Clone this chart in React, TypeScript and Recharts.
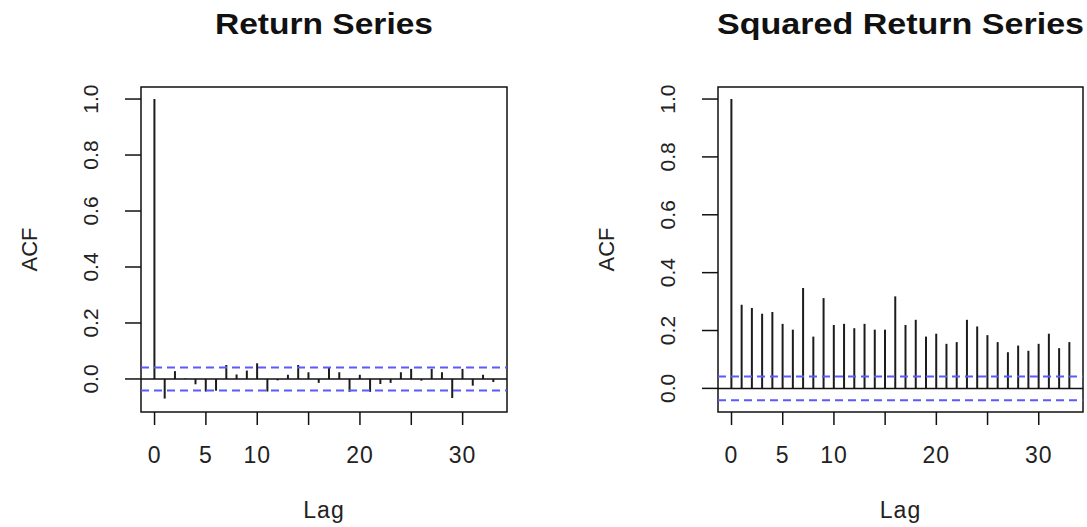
import React from 'react';
import { ComposedChart, Bar, XAxis, YAxis, ReferenceLine, ReferenceArea, Customized } from 'recharts';

const lags = [0, 1, 2, 3, 4, 5, 6, 7, 8, 9, 10, 11, 12, 13, 14, 15, 16, 17, 18, 19, 20, 21, 22, 23, 24, 25, 26, 27, 28, 29, 30, 31, 32, 33];

const returnAcf = [
  1.0, -0.07, 0.028, 0.002, -0.019, -0.045, -0.042, 0.05, 0.016, 0.03, 0.056, -0.045,
  -0.005, 0.015, 0.05, 0.024, -0.014, 0.042, 0.024, -0.046, 0.015, -0.046, -0.018, -0.014,
  0.024, 0.036, -0.006, 0.036, 0.024, -0.068, 0.036, -0.024, 0.015, -0.011,
];

const squaredAcf = [
  1.0, 0.289, 0.278, 0.258, 0.264, 0.223, 0.203, 0.347, 0.179, 0.312, 0.219, 0.223,
  0.208, 0.223, 0.203, 0.203, 0.318, 0.219, 0.237, 0.179, 0.189, 0.154, 0.16, 0.237,
  0.214, 0.184, 0.16, 0.125, 0.148, 0.13, 0.154, 0.189, 0.139, 0.16,
];

const confLimit = 0.041;
const xTicks = [0, 5, 10, 15, 20, 25, 30];
const xTickLabels = ['0', '5', '10', '', '20', '', '30'];
const yTicks = [0, 0.2, 0.4, 0.6, 0.8, 1.0];

const font = '"Liberation Sans", Arial, Helvetica, sans-serif';
const ink = '#111';
const textInk = '#222';

type PanelProps = {
  title: string;
  titleWidth: number;
  values: number[];
  yDomain: [number, number];
  yAxisWidth: number;
  rightMargin: number;
  width: number;
  left: number;
};

const xDomain: [number, number] = [-1.32, 34.32];
const plotTop = 87;
const xAxisHeight = 115;
const chartHeight = 527;

function Panel({ title, titleWidth, values, yDomain, yAxisWidth, rightMargin, width, left }: PanelProps) {
  const data = lags.map((lag, i) => ({ lag, acf: values[i] }));
  const plotLeft = yAxisWidth;
  const plotRight = width - rightMargin;
  const centerX = (plotLeft + plotRight) / 2;
  const plotBottom = chartHeight - xAxisHeight;
  const midY = (plotTop + plotBottom) / 2;

  return (
    <div style={{ position: 'absolute', left, top: 0 }}>
      <ComposedChart
        width={width}
        height={chartHeight}
        data={data}
        margin={{ top: plotTop, right: rightMargin, bottom: 0, left: 0 }}
      >
        <XAxis
          dataKey="lag"
          type="number"
          domain={xDomain}
          allowDataOverflow
          ticks={xTicks}
          interval={0}
          height={xAxisHeight}
          axisLine={false}
          tickSize={13}
          tickMargin={0}
          tickLine={{ stroke: ink, strokeWidth: 1.5 }}
          tick={(p: any) => {
            const idx = xTicks.indexOf(p.payload.value);
            return (
              <text
                x={p.x}
                y={p.y + 38}
                textAnchor="middle"
                fontFamily={font}
                fontSize={23}
                letterSpacing={1}
                fill={textInk}
              >
                {xTickLabels[idx]}
              </text>
            );
          }}
        />
        <YAxis
          type="number"
          domain={yDomain}
          allowDataOverflow
          ticks={yTicks}
          interval={0}
          width={yAxisWidth}
          axisLine={false}
          tickSize={16}
          tickMargin={0}
          tickLine={{ stroke: ink, strokeWidth: 1.5 }}
          tick={(p: any) => {
            const cx = p.x - 34;
            return (
              <text
                x={cx}
                y={p.y}
                transform={`rotate(-90, ${cx}, ${p.y})`}
                textAnchor="middle"
                dominantBaseline="central"
                fontFamily={font}
                fontSize={21}
                fill={textInk}
              >
                {p.payload.value.toFixed(1)}
              </text>
            );
          }}
        />
        <ReferenceArea
          x1={xDomain[0]}
          x2={xDomain[1]}
          y1={yDomain[0]}
          y2={yDomain[1]}
          fill="none"
          stroke={ink}
          strokeWidth={1.5}
          ifOverflow="visible"
        />
        <ReferenceLine y={0} stroke={ink} strokeWidth={1.5} />
        <ReferenceLine y={confLimit} stroke="#5a5aff" strokeWidth={2} strokeDasharray="8 5" />
        <ReferenceLine y={-confLimit} stroke="#5a5aff" strokeWidth={2} strokeDasharray="8 5" />
        <Bar dataKey="acf" barSize={2} fill="#1c1c1c" isAnimationActive={false} />
        <Customized
          component={() => (
            <g fontFamily={font} fill={textInk}>
              <text
                x={centerX}
                y={34}
                textAnchor="middle"
                fontSize={29}
                fontWeight="bold"
                fill="#111"
                textLength={titleWidth}
                lengthAdjust="spacingAndGlyphs"
              >
                {title}
              </text>
              <text x={centerX} y={518} textAnchor="middle" fontSize={23} letterSpacing={1}>
                Lag
              </text>
              <text
                x={plotLeft - 112}
                y={midY}
                transform={`rotate(-90, ${plotLeft - 112}, ${midY})`}
                textAnchor="middle"
                dominantBaseline="central"
                fontSize={22}
              >
                ACF
              </text>
            </g>
          )}
        />
      </ComposedChart>
    </div>
  );
}

export default function App() {
  return (
    <div style={{ position: 'absolute', left: 0, top: 0, width: 1087, height: 527, background: '#fff' }}>
      <Panel
        title="Return Series"
        titleWidth={218}
        values={returnAcf}
        yDomain={[-0.118, 1.043]}
        yAxisWidth={141}
        rightMargin={36}
        width={543}
        left={0}
      />
      <Panel
        title="Squared Return Series"
        titleWidth={367}
        values={squaredAcf}
        yDomain={[-0.0816, 1.0416]}
        yAxisWidth={175}
        rightMargin={4}
        width={544}
        left={543}
      />
    </div>
  );
}
